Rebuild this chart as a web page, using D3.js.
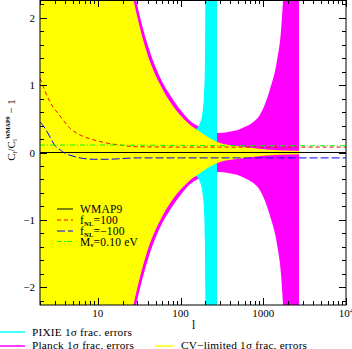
<!DOCTYPE html>
<html>
<head>
<meta charset="utf-8">
<script src="https://cdn.jsdelivr.net/npm/d3@7"></script>
<style>
  body { margin: 0; background: #fff; }
  svg { display: block; font-family: "Liberation Serif", "DejaVu Serif", serif; }
</style>
</head>
<body>
<svg id="chart" width="352" height="349"></svg>
<script>
// CV-limited 1 sigma fractional errors (yellow band)
const cvL   = [2, 5, 10, 20, 27, 40, 60, 75, 100, 130, 170, 220, 300, 450, 700, 1000, 1500, 2000, 2700];
const cvErr = [40, 14, 7.0, 3.1, 2.26, 1.45, 0.95, 0.75, 0.55, 0.41, 0.31, 0.22, 0.14, 0.10, 0.07, 0.05, 0.035, 0.03, 0.025];

// Planck 1 sigma fractional errors (magenta band)
const planckL   = [2, 10, 20, 27, 40, 60, 75, 100, 130, 170, 220, 300, 400, 480, 600, 750, 900, 1200, 1470, 1640, 1735, 2000, 2700];
const planckErr = [45, 7.8, 3.4, 2.45, 1.6, 1.05, 0.85, 0.63, 0.47, 0.38, 0.32, 0.29, 0.31, 0.33, 0.38, 0.45, 0.55, 0.93, 1.37, 1.81, 2.26, 3.5, 6];

// PIXIE 1 sigma fractional errors (cyan band)
const pixieL   = [2, 10, 27, 60, 100, 130, 150, 172, 185, 192, 197, 199, 201, 276];
const pixieErr = [39, 6.9, 2.2, 0.93, 0.54, 0.40, 0.34, 0.44, 0.62, 0.85, 1.3, 2.0, 3.0, 10];

// model ratios minus one
const modelL  = [2, 2.64, 3.5, 4.6, 6.1, 8.75, 12.9, 18.5, 30, 100, 1000, 10000];
const fnlPos  = [1.10, 0.75, 0.54, 0.36, 0.26, 0.19, 0.14, 0.11, 0.085, 0.08, 0.08, 0.08];
const fnlNegL = [2, 2.3, 2.64, 3.0, 3.5, 4.0, 4.6, 6.1, 8.75, 12.9, 30, 100, 1000, 10000];
const fnlNeg  = [0.45, 0.36, 0.23, 0.11, 0.04, -0.01, -0.04, -0.08, -0.10, -0.10, -0.08, -0.08, -0.08, -0.08];
const mnuL    = [2, 10, 100, 1000, 10000];
const mnuVal  = [0.11, 0.11, 0.105, 0.10, 0.10];
const wmapL   = [2, 10000];
const wmapVal = [0, 0];

// axis ticks
const xMajor = [10, 100, 1000, 10000];
const yMajor = [-2, -1, 0, 1, 2];

const svg = d3.select('#chart');
const x = d3.scaleLog().domain([2, 10000]).range([40, 346]);
const y = d3.scaleLinear().domain([-2.26, 2.26]).range([305, 0]);

const zip = (ls, vs) => ls.map((l, i) => ({ l, v: vs[i] }));

svg.append('clipPath').attr('id', 'plot')
  .append('rect').attr('x', 40).attr('y', 0).attr('width', 306).attr('height', 305);

const plot = svg.append('g').attr('clip-path', 'url(#plot)');

const band = d3.area()
  .x(d => x(d.l))
  .y0(d => y(-d.v))
  .y1(d => y(d.v))
  .curve(d3.curveMonotoneX);

plot.append('path').datum(zip(planckL, planckErr)).attr('d', band).attr('fill', '#ff00ff');
plot.append('path').datum(zip(pixieL, pixieErr)).attr('d', band).attr('fill', '#00ffff');
plot.append('path').datum(zip(cvL, cvErr)).attr('d', band).attr('fill', '#ffff00');

const line = d3.line()
  .x(d => x(d.l))
  .y(d => y(d.v))
  .curve(d3.curveMonotoneX);

const series = [
  { name: 'wmap', data: zip(wmapL, wmapVal), color: '#000000', dash: null },
  { name: 'fnlpos', data: zip(modelL, fnlPos), color: '#ff0000', dash: '4,3' },
  { name: 'fnlneg', data: zip(fnlNegL, fnlNeg), color: '#0000ff', dash: '8,3' },
  { name: 'mnu', data: zip(mnuL, mnuVal), color: '#00ff00', dash: '5,2,1,2' }
];

plot.selectAll('.model')
  .data(series)
  .enter()
  .append('path')
  .attr('class', 'model')
  .attr('d', d => line(d.data))
  .attr('fill', 'none')
  .attr('stroke', d => d.color)
  .attr('stroke-width', 1)
  .attr('stroke-dasharray', d => d.dash);

// frame
svg.append('rect')
  .attr('x', 40).attr('y', 0.5).attr('width', 306).attr('height', 304.5)
  .attr('fill', 'none').attr('stroke', '#000').attr('stroke-width', 1);

// x ticks (log), bottom and top, pointing inward
const xMinor = [];
[1, 10, 100, 1000].forEach(dec => {
  for (let k = 2; k <= 9; k++) if (dec * k >= 2 && dec * k < 10000) xMinor.push(dec * k);
});
const ticks = svg.append('g').attr('stroke', '#000').attr('stroke-width', 1);
xMinor.forEach(t => {
  const px = Math.round(x(t)) + 0.5;
  ticks.append('line').attr('x1', px).attr('x2', px).attr('y1', 305).attr('y2', 301);
  ticks.append('line').attr('x1', px).attr('x2', px).attr('y1', 0).attr('y2', 4);
});
xMajor.forEach(t => {
  const px = Math.round(x(t)) + 0.5;
  ticks.append('line').attr('x1', px).attr('x2', px).attr('y1', 305).attr('y2', 298);
  ticks.append('line').attr('x1', px).attr('x2', px).attr('y1', 0).attr('y2', 7);
});

// y ticks, left and right
d3.range(-22, 23, 2).map(v => v / 10).forEach(v => {
  const major = Math.abs(v - Math.round(v)) < 1e-6;
  const len = major ? 7 : 4;
  const py = Math.round(y(v)) + 0.5;
  ticks.append('line').attr('x1', 40).attr('x2', 40 + len).attr('y1', py).attr('y2', py);
  ticks.append('line').attr('x1', 346).attr('x2', 346 - len).attr('y1', py).attr('y2', py);
});

// tick labels
const labels = svg.append('g').attr('font-size', 11).attr('fill', '#000');
labels.selectAll('.ylab')
  .data(yMajor)
  .enter()
  .append('text')
  .attr('x', 35)
  .attr('y', d => y(d) + 4)
  .attr('text-anchor', 'end')
  .text(d => d < 0 ? '\u2212' + Math.abs(d) : d);

labels.selectAll('.xlab')
  .data(xMajor)
  .enter()
  .append('text')
  .attr('x', d => x(d))
  .attr('y', 316.5)
  .attr('text-anchor', 'middle')
  .each(function (d) {
    const t = d3.select(this);
    if (d === 10000) {
      t.append('tspan').text('10');
      t.append('tspan').attr('font-size', 7).attr('dy', -4).text('4');
    } else {
      t.text(d);
    }
  });

// axis titles
svg.append('text')
  .attr('x', x(Math.sqrt(2 * 10000)) + 0.5)
  .attr('y', 329)
  .attr('text-anchor', 'middle')
  .attr('font-size', 11.5)
  .text('l');

const ytitle = svg.append('text')
  .attr('transform', 'translate(15,130) rotate(-90)')
  .attr('text-anchor', 'middle')
  .attr('font-size', 11);
ytitle.append('tspan').text('C');
ytitle.append('tspan').attr('font-size', 7).attr('dy', 2).text('l');
ytitle.append('tspan').attr('dy', -2).text('/C');
ytitle.append('tspan').attr('font-size', 7).attr('dy', 2).text('l');
ytitle.append('tspan').attr('font-size', 6).attr('font-weight', 'bold').attr('dy', -7).text('WMAP9');
ytitle.append('tspan').attr('dy', 5).text(' \u2212 1');

// legend inside plot
const legend = svg.append('g').attr('font-size', 11.5).attr('letter-spacing', 0.2);
const legendRows = [
  { color: '#000000', dash: null, main: 'WMAP9' },
  { color: '#ff0000', dash: '4,3', main: 'f', sub: 'NL', rest: '=100' },
  { color: '#0000ff', dash: '8,3', main: 'f', sub: 'NL', rest: '=\u2212100' },
  { color: '#00ff00', dash: '5,2,1,2', main: 'M', sub: '\u03bd', rest: '=0.10  eV' }
];
const rowY = [209, 220, 231, 241.5];
legendRows.forEach((r, i) => {
  legend.append('line')
    .attr('x1', 57).attr('x2', 73).attr('y1', rowY[i]).attr('y2', rowY[i])
    .attr('stroke', r.color).attr('stroke-width', 1)
    .attr('stroke-dasharray', r.dash);
  const t = legend.append('text').attr('x', 80).attr('y', rowY[i] + 4);
  t.append('tspan').text(r.main);
  if (r.sub) {
    t.append('tspan').attr('font-size', 6.5).attr('font-weight', 'bold').attr('dy', 1.5).text(r.sub);
    t.append('tspan').attr('dy', -1.5).text(r.rest);
  }
});

// legend below plot
const bottomRows = [
  { color: '#00ffff', x1: 0, x2: 25, ly: 332, tx: 32, ty: 336, label: 'PIXIE 1\u03c3 frac. errors' },
  { color: '#ff00ff', x1: 0, x2: 25, ly: 346, tx: 32, ty: 349, label: 'Planck 1\u03c3 frac. errors' },
  { color: '#ffff00', x1: 155, x2: 173, ly: 346, tx: 181, ty: 349, label: 'CV\u2212limited 1\u03c3 frac. errors' }
];
const bottom = svg.append('g').attr('font-size', 11.3).attr('letter-spacing', 0.2);
bottomRows.forEach(r => {
  bottom.append('line')
    .attr('x1', r.x1).attr('x2', r.x2).attr('y1', r.ly).attr('y2', r.ly)
    .attr('stroke', r.color).attr('stroke-width', 1.5);
  bottom.append('text').attr('x', r.tx).attr('y', r.ty).text(r.label);
});
</script>
</body>
</html>
